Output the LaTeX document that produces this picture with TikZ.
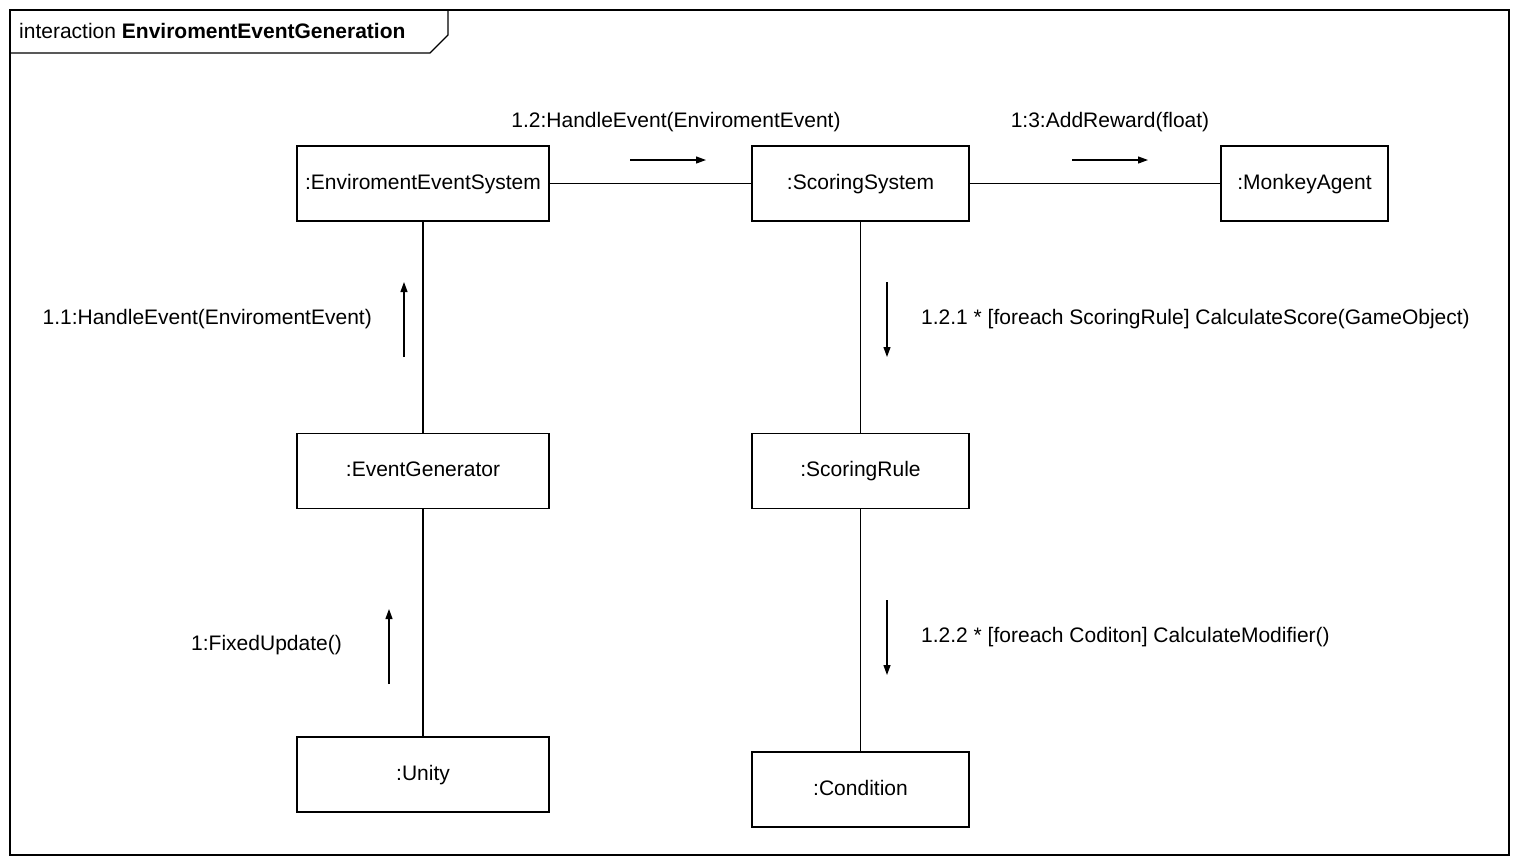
\documentclass[tikz,border=0pt]{standalone}
\usepackage{fontspec}
\setmainfont{Liberation Sans}
\usetikzlibrary{arrows.meta}
\tikzset{
  obj/.style={draw=black,line width=1.6pt,minimum width=#1,minimum height=75pt,inner sep=0pt,text height=15pt,text depth=4pt,font=\fontsize{21}{25}\selectfont},
  lnk/.style={line width=1.7pt},
  msg/.style={line width=1.2pt,-{Triangle[length=10pt,width=7pt]}},
  lbl/.style={inner sep=0pt,font=\fontsize{21}{25}\selectfont}
}
\begin{document}
\begin{tikzpicture}[y=-1pt, x=1pt]
  \useasboundingbox (0,0) rectangle (1513,857);
  % frame and tab
  \path[draw=black,line width=1.5pt] (10,10) rectangle (1509,855);
  \path[draw=black,line width=1.2pt] (10,53) -- (430,53) -- (448,35) -- (448,10);
  \node[lbl,anchor=west] (title) at (19,31) {interaction \textbf{EnviromentEventGeneration}};
  % objects
  \node[obj=252pt] (ees) at (423,183.5) {:EnviromentEventSystem};
  \node[obj=217pt] (ss) at (860.5,183.5) {:ScoringSystem};
  \node[obj=167pt] (ma) at (1304.5,183.5) {:MonkeyAgent};
  \node[obj=252pt] (eg) at (423,471) {:EventGenerator};
  \node[obj=217pt] (sr) at (860.5,471) {:ScoringRule};
  \node[obj=252pt] (un) at (423,774.5) {:Unity};
  \node[obj=217pt] (co) at (860.5,789.5) {:Condition};
  % links
  \draw[lnk] (ees) -- (ss);
  \draw[lnk] (ss) -- (ma);
  \draw[lnk] (ees) -- (eg);
  \draw[lnk] (eg) -- (un);
  \draw[lnk] (ss) -- (sr);
  \draw[lnk] (sr) -- (co);
  % messages
  \coordinate (m12a) at (630,160); \coordinate (m12b) at (706,160);
  \coordinate (m13a) at (1072,160); \coordinate (m13b) at (1148,160);
  \coordinate (m11a) at (404,357); \coordinate (m11b) at (404,282);
  \coordinate (m1a) at (389,684); \coordinate (m1b) at (389,609);
  \coordinate (m121a) at (887,282); \coordinate (m121b) at (887,357);
  \coordinate (m122a) at (887,600); \coordinate (m122b) at (887,675);
  \draw[msg] (m12a) -- (m12b);
  \draw[msg] (m13a) -- (m13b);
  \draw[msg] (m11a) -- (m11b);
  \draw[msg] (m1a) -- (m1b);
  \draw[msg] (m121a) -- (m121b);
  \draw[msg] (m122a) -- (m122b);
  \node[lbl] (l12) at (676,122) {1.2:HandleEvent(EnviromentEvent)};
  \node[lbl] (l13) at (1110,122) {1:3:AddReward(float)};
  \node[lbl,anchor=east] (l11) at (372,319) {1.1:HandleEvent(EnviromentEvent)};
  \node[lbl,anchor=east] (l1) at (342,645) {1:FixedUpdate()};
  \node[lbl,anchor=west] (l121) at (921,319) {1.2.1 * [foreach ScoringRule] CalculateScore(GameObject)};
  \node[lbl,anchor=west] (l122) at (921,637) {1.2.2 * [foreach Coditon] CalculateModifier()};
\end{tikzpicture}
\end{document}
